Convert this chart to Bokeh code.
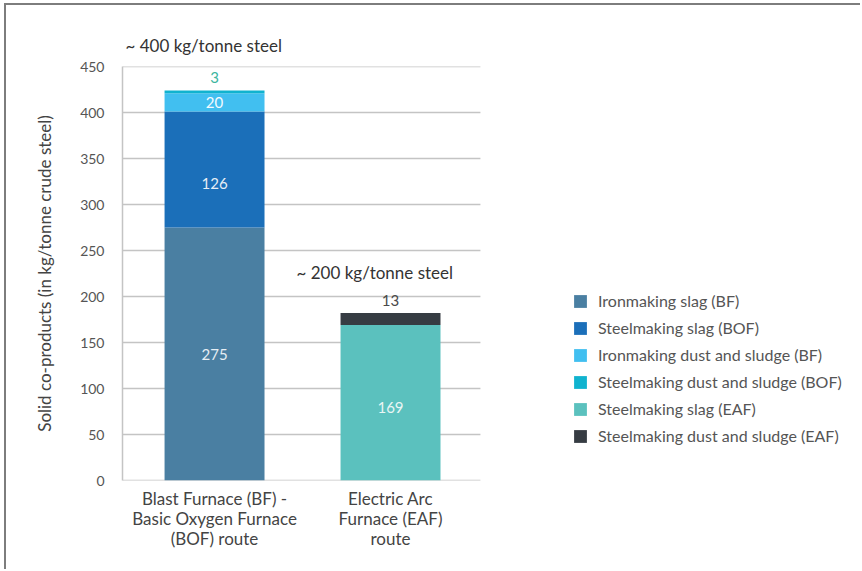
from bokeh.plotting import figure
from bokeh.models import Range1d, ColumnDataSource, Legend, LegendItem, Label, FixedTicker, Title
from bokeh.embed import file_html
from bokeh.resources import INLINE
from bokeh.core.properties import value

# ---------------- data ----------------
routes = ["Blast Furnace (BF) -\nBasic Oxygen Furnace\n(BOF) route",
          "Electric Arc\nFurnace (EAF)\nroute"]
components = ["Ironmaking slag (BF)", "Steelmaking slag (BOF)",
              "Ironmaking dust and sludge (BF)", "Steelmaking dust and sludge (BOF)",
              "Steelmaking slag (EAF)", "Steelmaking dust and sludge (EAF)"]
bf_bof_values = [275, 126, 20, 3, 0, 0]
eaf_values = [0, 0, 0, 0, 169, 13]
route_totals_text = ["~ 400 kg/tonne steel", "~ 200 kg/tonne steel"]
y_ticks = [0, 50, 100, 150, 200, 250, 300, 350, 400, 450]
y_label = "Solid co-products (in kg/tonne crude steel)"

# ---------------- style / layout ----------------
colors = ["#4a7fa2", "#1b6fb9", "#41bff0", "#10b3cf", "#5bc1be", "#363c43"]
label_colors = ["#e6eef4", "#e6eef6", "#f4fbff", "#3cb59e", "#eaf6f5", "#4a4a4a"]
label_dy = [0, 14, 0, 0, 5, 0]      # pixel nudges of the inside labels
FONT = "Lato"
X_START, GRID_END, X_END = -0.523, 1.511, 3.682   # chart area ends at GRID_END; legend sits right of it

p = figure(width=856, height=566, x_range=Range1d(X_START, X_END), y_range=Range1d(0, 450),
           output_backend="svg", toolbar_location=None,
           min_border_left=116, min_border_right=0, min_border_top=61, min_border_bottom=91)
p.styles = {"margin-left": "4px", "margin-top": "3px",
            "border-left": "2px solid #7d7d7d", "border-top": "2px solid #7d7d7d"}
p.outline_line_color = None
p.background_fill_color = "white"
p.border_fill_color = "white"

# horizontal grid lines limited to the chart area
n = len(y_ticks)
p.segment(x0=[X_START] * n, x1=[GRID_END] * n, y0=y_ticks, y1=y_ticks,
          line_color="#c4c4c4", line_width=1.5)

series = [bf_bof_values, eaf_values]
xs = list(range(len(routes)))
bottoms = [0] * len(routes)
renderers = []
lab_x, lab_y, lab_t, lab_c, lab_off = [], [], [], [], []
for i, comp in enumerate(components):
    vals = [s[i] for s in series]
    tops = [b + v for b, v in zip(bottoms, vals)]
    src = ColumnDataSource(dict(x=xs, bottom=list(bottoms), top=tops))
    r = p.vbar(x="x", bottom="bottom", top="top", width=0.568, source=src,
               fill_color=colors[i], line_color=None)
    renderers.append(r)
    for j, v in enumerate(vals):
        if v <= 0:
            continue
        lab_x.append(xs[j])
        lab_t.append(str(v))
        lab_c.append(label_colors[i])
        if v < 15:
            lab_y.append(tops[j])
            lab_off.append(-13)
        else:
            lab_y.append((bottoms[j] + tops[j]) / 2)
            lab_off.append(label_dy[i])
    bottoms = tops

lsrc = ColumnDataSource(dict(x=lab_x, y=lab_y, text=lab_t, color=lab_c, off=lab_off))
p.text(x="x", y="y", text="text", source=lsrc, text_color="color", y_offset="off",
       text_align="center", text_baseline="middle", text_font=value(FONT),
       text_font_size="15px")

# route totals annotations
p.add_layout(Title(text=route_totals_text[0], align="left", offset=3, standoff=21,
                   text_font=FONT, text_font_size="17px", text_font_style="normal",
                   text_color="#333333"), "above")
p.add_layout(Label(x=0.466, y=226, text=route_totals_text[1], text_font=FONT,
                   text_font_size="17px", text_color="#333333", text_baseline="middle"))

# axes
p.xaxis.ticker = FixedTicker(ticks=xs)
p.xaxis.major_label_overrides = {x: r for x, r in zip(xs, routes)}
p.xaxis.axis_line_color = None
p.xaxis.major_tick_line_color = None
p.xaxis.minor_tick_line_color = None
p.xaxis.major_label_text_font = FONT
p.xaxis.major_label_text_font_size = "17px"
p.xaxis.major_label_text_color = "#444444"
p.xaxis.major_label_text_line_height = 0.97
p.xaxis.major_label_standoff = 1

p.yaxis.ticker = FixedTicker(ticks=y_ticks)
p.yaxis.axis_label = y_label
p.yaxis.axis_label_text_font = FONT
p.yaxis.axis_label_text_font_style = "normal"
p.yaxis.axis_label_text_font_size = "17px"
p.yaxis.axis_label_text_color = "#444444"
p.yaxis.axis_label_standoff = 22
p.yaxis.axis_line_color = "#c4c4c4"
p.yaxis.axis_line_width = 1.5
p.yaxis.major_tick_line_color = None
p.yaxis.minor_tick_line_color = None
p.yaxis.major_label_text_font = FONT
p.yaxis.major_label_text_font_size = "14px"
p.yaxis.major_label_text_color = "#555555"
p.yaxis.major_label_standoff = 12

p.xgrid.grid_line_color = None
p.ygrid.grid_line_color = None

legend = Legend(items=[LegendItem(label=c, renderers=[r]) for c, r in zip(components, renderers)],
                location=(450, 35), glyph_width=16, glyph_height=16, label_height=16,
                spacing=8, label_standoff=10, padding=0, margin=0,
                border_line_color=None, background_fill_alpha=0,
                label_text_font=FONT, label_text_font_size="16px",
                label_text_color="#555555")
p.add_layout(legend, "center")

open("out.html", "w").write(file_html(p, INLINE))
